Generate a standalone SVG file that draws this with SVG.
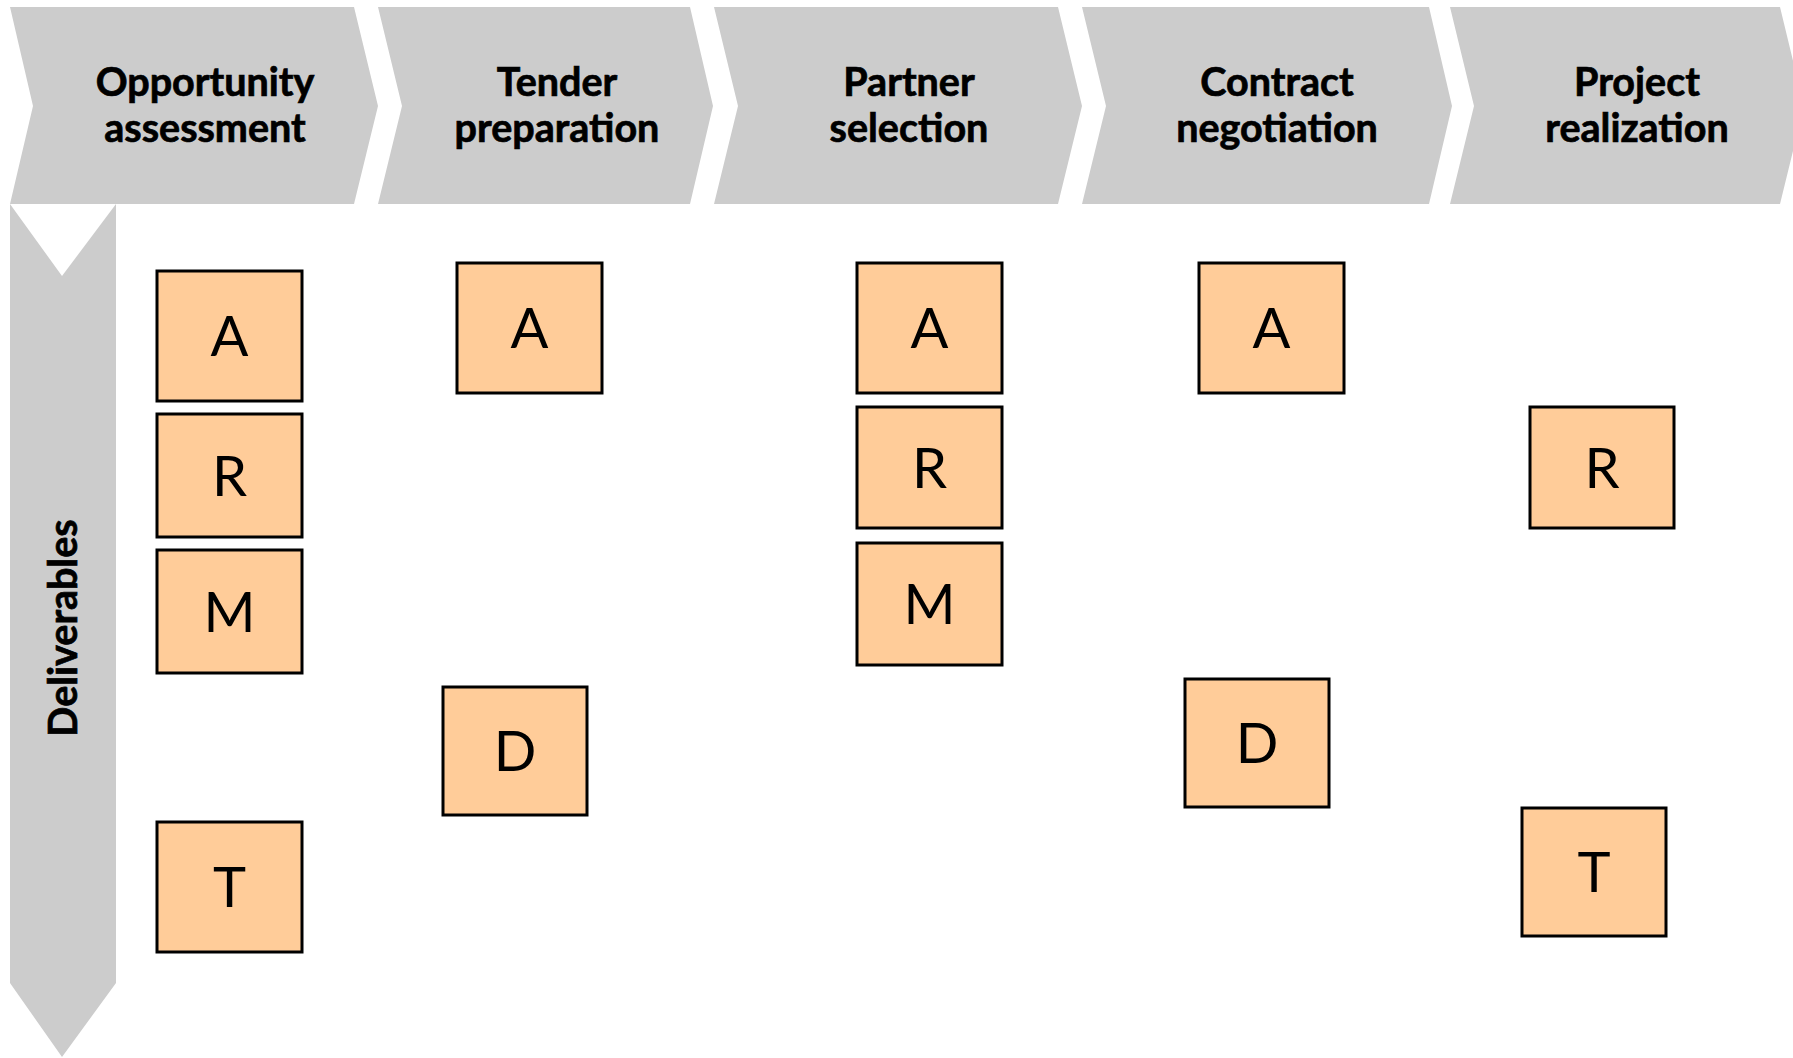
<svg xmlns="http://www.w3.org/2000/svg" width="1793" height="1058" viewBox="0 0 1793 1058">
<style>
.band{fill:#cccccc;}
.hdr{font-family:Lato,"Liberation Sans",sans-serif;font-weight:bold;font-size:39.5px;fill:#000;stroke:#000;stroke-width:0.7;text-anchor:middle;}
.box rect{fill:#ffcc99;stroke:#000;stroke-width:3;}
.box text{font-family:Lato,"Liberation Sans",sans-serif;font-size:56px;fill:#000;text-anchor:middle;}
</style>
<rect width="1793" height="1058" fill="#ffffff"/>
<g id="phases">
<g id="phase-opportunity">
<polygon class="band" points="10,7 354,7 378,106 354,204 10,204 33,106"/>
<text class="hdr" x="205" y="96">Opportunity</text>
<text class="hdr" x="205" y="142">assessment</text>
</g>
<g id="phase-tender">
<polygon class="band" points="378,7 690,7 713,106 690,204 378,204 402,106"/>
<text class="hdr" x="557" y="96">Tender</text>
<text class="hdr" x="557" y="142">preparation</text>
</g>
<g id="phase-partner">
<polygon class="band" points="714,7 1058,7 1082,106 1058,204 714,204 738,106"/>
<text class="hdr" x="909" y="96">Partner</text>
<text class="hdr" x="909" y="142">selection</text>
</g>
<g id="phase-contract">
<polygon class="band" points="1082,7 1429,7 1452,106 1429,204 1082,204 1106,106"/>
<text class="hdr" x="1277" y="96">Contract</text>
<text class="hdr" x="1277" y="142">negotiation</text>
</g>
<g id="phase-project">
<polygon class="band" points="1450,7 1780,7 1804,106 1780,204 1450,204 1474,106"/>
<text class="hdr" x="1637" y="96">Project</text>
<text class="hdr" x="1637" y="142">realization</text>
</g>
</g>
<g id="deliverables">
<polygon class="band" points="10,204 62,276 116,204 116,983 62,1057 10,983"/>
<text class="hdr" transform="translate(77,628) rotate(-90)" x="0" y="0">Deliverables</text>
</g>
<g id="connectors"></g>
<g id="c1-A" class="box"><rect x="157" y="271" width="145" height="130"/><text x="229.5" y="356">A</text></g>
<g id="c1-R" class="box"><rect x="157" y="414" width="145" height="123"/><text x="229.5" y="495.5">R</text></g>
<g id="c1-M" class="box"><rect x="157" y="550" width="145" height="123"/><text x="229.5" y="631.5">M</text></g>
<g id="c1-T" class="box"><rect x="157" y="822" width="145" height="130"/><text x="229.5" y="907">T</text></g>
<g id="c2-A" class="box"><rect x="457" y="263" width="145" height="130"/><text x="529.5" y="348">A</text></g>
<g id="c2-D" class="box"><rect x="443" y="687" width="144" height="128"/><text x="515" y="771">D</text></g>
<g id="c3-A" class="box"><rect x="857" y="263" width="145" height="130"/><text x="929.5" y="348">A</text></g>
<g id="c3-R" class="box"><rect x="857" y="407" width="145" height="121"/><text x="929.5" y="487.5">R</text></g>
<g id="c3-M" class="box"><rect x="857" y="543" width="145" height="122"/><text x="929.5" y="624">M</text></g>
<g id="c4-A" class="box"><rect x="1199" y="263" width="145" height="130"/><text x="1271.5" y="348">A</text></g>
<g id="c4-D" class="box"><rect x="1185" y="679" width="144" height="128"/><text x="1257" y="763">D</text></g>
<g id="c5-R" class="box"><rect x="1530" y="407" width="144" height="121"/><text x="1602" y="487.5">R</text></g>
<g id="c5-T" class="box"><rect x="1522" y="808" width="144" height="128"/><text x="1594" y="892">T</text></g>
</svg>
